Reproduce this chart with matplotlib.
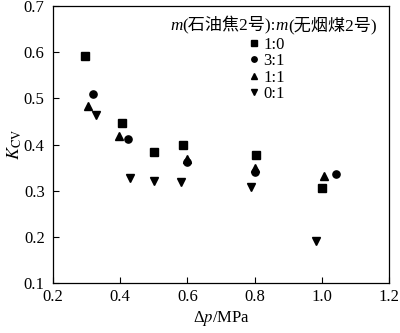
import matplotlib
matplotlib.use("Agg")
import matplotlib.pyplot as plt
from matplotlib.offsetbox import TextArea, HPacker, AnchoredOffsetbox

plt.rcParams['font.family'] = ['Liberation Serif', 'Noto Sans CJK SC']
plt.rcParams['mathtext.fontset'] = 'stix'

# Data: mass ratio m(石油焦2号):m(无烟煤2号)
labels = ['1:0', '3:1', '1:1', '0:1']
markers = ['s', 'o', '^', 'v']

x_10 = [0.295, 0.405, 0.50, 0.587, 0.804, 1.00]
y_10 = [0.592, 0.447, 0.384, 0.399, 0.377, 0.306]

x_31 = [0.319, 0.424, 0.598, 0.80, 1.043]
y_31 = [0.51, 0.411, 0.363, 0.341, 0.336]

x_11 = [0.305, 0.396, 0.60, 0.80, 1.007]
y_11 = [0.483, 0.419, 0.369, 0.350, 0.331]

x_01 = [0.329, 0.429, 0.50, 0.581, 0.788, 0.982]
y_01 = [0.463, 0.327, 0.322, 0.318, 0.308, 0.19]

xs = [x_10, x_31, x_11, x_01]
ys = [y_10, y_31, y_11, y_01]

fig = plt.figure(figsize=(4.0, 3.33), dpi=100)
ax = fig.add_axes([0.1325, 0.150, 0.84, 0.832])

for x, y, m, lab in zip(xs, ys, markers, labels):
    ax.plot(x, y, linestyle='none', marker=m, color='black', markersize=5.2, label=lab)

ax.set_xlim(0.2, 1.2)
ax.set_ylim(0.1, 0.7)
ax.set_xticks([0.2, 0.4, 0.6, 0.8, 1.0, 1.2])
ax.set_yticks([0.1, 0.2, 0.3, 0.4, 0.5, 0.6, 0.7])
ax.tick_params(direction='in', length=4, width=0.8, labelsize=12, top=False, right=False)
ax.tick_params(axis='x', pad=4)
ax.tick_params(axis='y', pad=6)
for s in ax.spines.values():
    s.set_linewidth(0.9)

ax.set_xlabel(r'Δ$p$/MPa', fontsize=12, labelpad=3)
ax.set_ylabel(r'$K_{\mathrm{CV}}$', fontsize=13, labelpad=0)

# Legend entries (no title, title drawn separately to mix italic m and CJK)
leg = ax.legend(loc='upper left', bbox_to_anchor=(249 / 400, 1 - 37 / 333),
                bbox_transform=fig.transFigure, frameon=False, fontsize=12,
                handlelength=0.55, handletextpad=0.3, labelspacing=0.02,
                borderaxespad=0, borderpad=0, markerscale=0.75)

# Legend title: m(石油焦2号):m(无烟煤2号)
fs = 12.3
pieces = [
    TextArea('m', textprops=dict(fontsize=fs, style='italic', family=['Liberation Serif'])),
    TextArea('(石油焦2号):', textprops=dict(fontsize=fs, family=['Liberation Serif', 'Noto Sans CJK SC'])),
    TextArea('m', textprops=dict(fontsize=fs, style='italic', family=['Liberation Serif'])),
    TextArea('(无烟煤2号)', textprops=dict(fontsize=fs, family=['Liberation Serif', 'Noto Sans CJK SC'])),
]
title_box = HPacker(children=pieces, align='baseline', pad=0, sep=0)
anch = AnchoredOffsetbox(loc='center', child=title_box, pad=0, borderpad=0, frameon=False,
                         bbox_to_anchor=(273.5 / 400, 1 - 25 / 333),
                         bbox_transform=fig.transFigure)
ax.add_artist(anch)

fig.savefig('out.png', dpi=100)
